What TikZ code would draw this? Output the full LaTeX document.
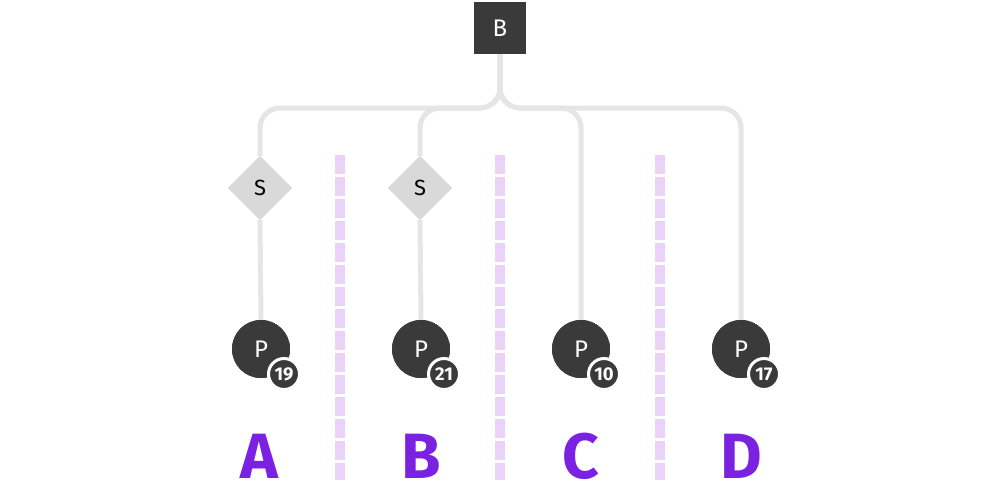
\documentclass[tikz,border=0pt]{standalone}
\usepackage{fontspec}
\setmainfont{Fira Sans}
\usetikzlibrary{shapes.geometric}
\definecolor{dark}{HTML}{3A3A3A}
\definecolor{linegray}{HTML}{E5E5E5}
\definecolor{diagray}{HTML}{D9D9D9}
\definecolor{sepcol}{HTML}{EAD3F6}
\definecolor{lettercol}{HTML}{7B22E2}
\begin{document}
\begin{tikzpicture}[x=1pt,y=-1pt,
  topbox/.style={rectangle,fill=dark,minimum size=52pt,inner sep=0pt,text=white,font=\fontsize{24}{24}\selectfont},
  sdiamond/.style={diamond,fill=diagray,minimum size=64pt,inner sep=0pt,text=black,font=\fontsize{22}{22}\selectfont},
  pcircle/.style={circle,fill=dark,minimum size=58pt,inner sep=0pt,text=white,font=\fontsize{24}{24}\selectfont},
  badge/.style={circle,fill=dark,draw=white,line width=3pt,minimum size=31pt,inner sep=0pt,text=white,font=\bfseries\fontsize{18.5}{18.5}\selectfont},
  conn/.style={draw=linegray,line width=5pt,rounded corners=20pt},
  sepline/.style={draw=sepcol,line width=10pt,dash pattern=on 19pt off 3pt},
  colletter/.style={anchor=base,inner sep=0pt,text=lettercol,font=\bfseries\fontsize{64}{64}\selectfont}
]
\useasboundingbox (0,0) rectangle (1000,480);
% separators
\foreach \x in {340,500,660} \draw[sepline] (\x,155) -- (\x,480);
% nodes
\node[topbox] (root) at (500,28) {B};
\node[sdiamond] (sA) at (260,188) {S};
\node[sdiamond] (sB) at (420,188) {S};
\node[pcircle] (pA) at (261,349) {P};
\node[pcircle] (pB) at (421,349) {P};
\node[pcircle] (pC) at (581,349) {P};
\node[pcircle] (pD) at (741,349) {P};
\coordinate (j) at (500,108);
% connectors
\draw[conn] (root.south) -- (j) -| (sA.north);
\draw[conn] (root.south) -- (j) -| (sB.north);
\draw[conn] (root.south) -- (j) -| (pC.north);
\draw[conn] (root.south) -- (j) -| (pD.north);
\draw[conn] (sA.south) -- (pA.north);
\draw[conn] (sB.south) -- (pB.north);
% redraw nodes on top
\node[topbox] at (root) {B};
\node[sdiamond] at (sA) {S};
\node[sdiamond] at (sB) {S};
\node[pcircle] at (pA) {P};
\node[pcircle] at (pB) {P};
\node[pcircle] at (pC) {P};
\node[pcircle] at (pD) {P};
% badges
\node[badge] (bA) at (284,374) {19};
\node[badge] (bB) at (444,374) {21};
\node[badge] (bC) at (604,374) {10};
\node[badge] (bD) at (764,374) {17};
% letters
\node[colletter] (lA) at (259,478) {A};
\node[colletter] (lB) at (421,478) {B};
\node[colletter] (lC) at (581,478) {C};
\node[colletter] (lD) at (741,478) {D};
\end{tikzpicture}
\end{document}
